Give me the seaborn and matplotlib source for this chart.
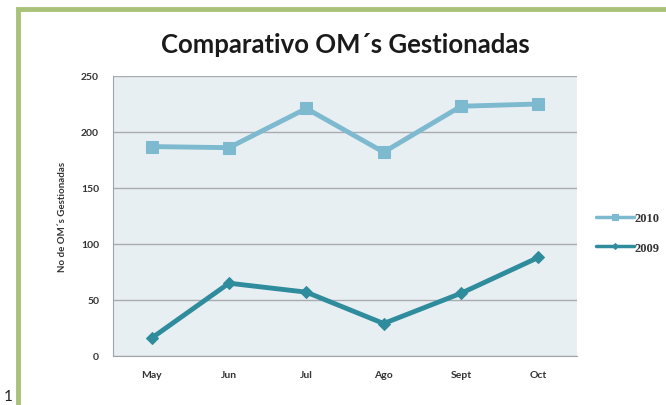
import matplotlib
matplotlib.use("Agg")
import matplotlib.pyplot as plt
import matplotlib.patches as mpatches
import seaborn as sns
import pandas as pd

months = ["May", "Jun", "Jul", "Ago", "Sept", "Oct"]
om_2010 = [187, 186, 221, 182, 223, 225]
om_2009 = [16, 65, 57, 29, 56, 88]

df = pd.DataFrame({
    "mes": months * 2,
    "valor": om_2010 + om_2009,
    "anio": ["2010"] * 6 + ["2009"] * 6,
})

sns.set_style("white")
plt.rcParams["font.family"] = ["Lato", "DejaVu Sans"]

fig = plt.figure(figsize=(6.66, 4.06), dpi=100)
fig.patch.set_facecolor("white")

# green frame around the chart (left and top edges)
frame = mpatches.Rectangle((18 / 666, -0.05), 1.1, 1.05 - 10 / 406,
                           transform=fig.transFigure, fill=False,
                           edgecolor="#a9c27a", linewidth=3.5, zorder=0)
fig.patches.append(frame)
fig.text(4 / 666, 9 / 406, "1", fontsize=11, color="#222222", va="center", ha="left")

ax = fig.add_axes([113 / 666, 49 / 406, 464 / 666, 280 / 406])
ax.set_facecolor("#e8eff3")

palette = {"2010": "#7db9cf", "2009": "#2f8c9c"}
sns.lineplot(data=df[df.anio == "2010"], x="mes", y="valor", color=palette["2010"],
             marker="s", markersize=9, markeredgecolor=palette["2010"],
             linewidth=3.5, ax=ax, label="2010", sort=False)
sns.lineplot(data=df[df.anio == "2009"], x="mes", y="valor", color=palette["2009"],
             marker="D", markersize=6, markeredgecolor=palette["2009"],
             linewidth=3.5, ax=ax, label="2009", sort=False)

ax.set_xlim(-0.5, 5.5)
ax.set_ylim(0, 250)
ax.set_yticks(range(0, 251, 50))
ax.yaxis.grid(True, color="#a7abad", linewidth=1)
ax.set_axisbelow(True)
for side in ["top", "right"]:
    ax.spines[side].set_visible(False)
for side in ["left", "bottom"]:
    ax.spines[side].set_color("#a0a4a6")
ax.tick_params(axis="both", length=0, labelsize=7.5, labelcolor="#333333", pad=10)
for lbl in ax.get_xticklabels() + ax.get_yticklabels():
    lbl.set_fontweight("bold")
ax.set_xlabel("")
ax.set_ylabel("No de OM´s Gestionadas", fontsize=7, fontweight="bold", color="#333333", labelpad=10)

ax.set_title("Comparativo OM´s Gestionadas", fontsize=18.5, fontweight="bold",
             color="#1a1a1a", pad=17)

leg = ax.legend(loc="center left", bbox_to_anchor=(1.017, 0.44), frameon=False,
                prop={"family": "Liberation Serif", "weight": "bold", "size": 9},
                handlelength=3.0, handletextpad=0.05, labelspacing=1.4,
                markerscale=0.5)
for line in leg.get_lines():
    line.set_linewidth(2.5)
for txt in leg.get_texts():
    txt.set_color("#333333")

fig.savefig("out.png", dpi=100)
